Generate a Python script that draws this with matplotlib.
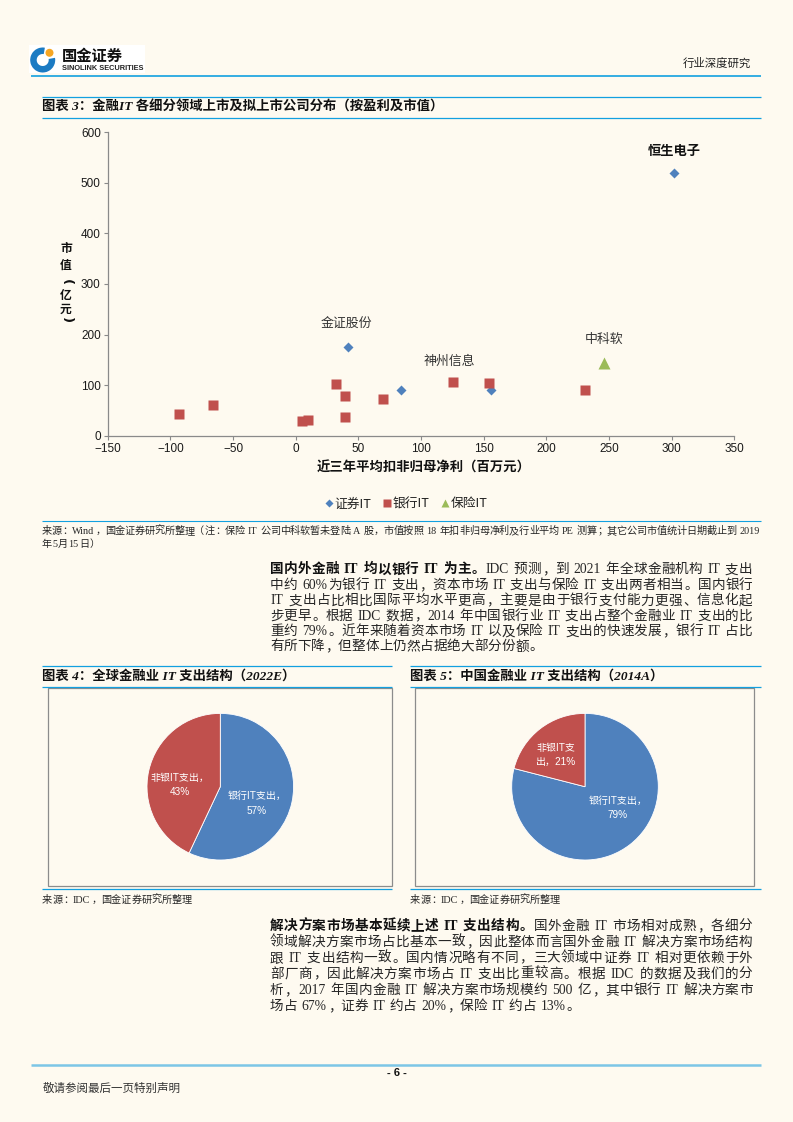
import matplotlib
matplotlib.use('Agg')
import matplotlib.pyplot as plt
from matplotlib.patches import Wedge, Circle, Rectangle
from matplotlib.lines import Line2D

W, H, DPI = 793, 1122, 100
BG = '#FEFAF0'
CJK = 'Noto Sans CJK SC'
plt.rcParams['font.family'] = [CJK, 'DejaVu Sans']
plt.rcParams['axes.unicode_minus'] = True

BLUE = '#4F81BD'
RED = '#C0504D'
GREEN = '#9BBB59'
LINE_BLUE = '#12A0E0'

# ---------------- data ----------------
sec_x = [41.8, 84.0, 155.6, 301.9]
sec_y = [175, 91, 90, 519]
bank_x = [-93, -66, 5, 10, 32, 39, 39.5, 70, 125.5, 154.5, 231]
bank_y = [43, 61, 29, 32, 103, 78, 37, 72, 107, 105, 91]
ins_x = [246]
ins_y = [144]
series_names = ['证券IT', '银行IT', '保险IT']
label_names = ['恒生电子', '金证股份', '神州信息', '中科软']
label_points = [(301.9, 519), (41.8, 175), (125.5, 107), (246, 144)]
x_ticks = [-150, -100, -50, 0, 50, 100, 150, 200, 250, 300, 350]
y_ticks = [0, 100, 200, 300, 400, 500, 600]

pie1_labels = ['银行IT支出，\n57%', '非银IT支出，\n43%']
pie1_values = [57, 43]
pie2_labels = ['银行IT支出，\n79%', '非银IT支\n出，21%']
pie2_values = [79, 21]

fig = plt.figure(figsize=(W / DPI, H / DPI), dpi=DPI, facecolor=BG)
renderer = fig.canvas.get_renderer()

ax0 = fig.add_axes([0, 0, 1, 1])
ax0.set_xlim(0, W)
ax0.set_ylim(H, 0)
ax0.axis('off')
ax0.set_facecolor(BG)


def hline(x0, x1, y, color=LINE_BLUE, lw=0.9):
    ax0.plot([x0, x1], [y, y], color=color, lw=lw, solid_capstyle='butt')


BODY = ['Liberation Serif', CJK]
TXT = '#262626'


def is_cjk(c):
    return len(c) == 1 and ord(c) > 0x2000


def tokenize(segs):
    toks = []
    for text, weight in segs:
        buf = ''
        for c in text:
            if c == ' ' or is_cjk(c):
                if buf:
                    toks.append((buf, weight))
                    buf = ''
                toks.append((c, weight))
            else:
                buf += c
        if buf:
            toks.append((buf, weight))
    return toks


def text_line(x0, yc, segs, size, x1=None, color=TXT):
    em = size * DPI / 72.0
    y = yc + 0.36 * em
    toks = tokenize(segs)
    items = []
    for t, w in toks:
        col = '#111' if w == 'bold' else color
        if t == ' ':
            items.append((None, t, 0.28 * em))
        elif is_cjk(t):
            a = ax0.text(0, y, t, fontsize=size, fontweight=w, family=BODY,
                         va='baseline', ha='center', color=col)
            items.append((a, t, em))
        else:
            a = ax0.text(0, y, t, fontsize=size, fontweight=w, family=BODY,
                         va='baseline', ha='left', color=col)
            wd = a.get_window_extent(renderer).width + 0.08 * em
            items.append((a, t, wd))
    total = sum(i[2] for i in items)
    gap = 0.0
    if x1 is not None and len(items) > 1:
        gap = (x1 - x0 - total) / (len(items) - 1)
    x = x0
    for a, t, wd in items:
        if a is not None:
            if is_cjk(t):
                if t in '，。、；：）':
                    a.set_ha('left')
                    a.set_x(x + 0.05 * em)
                elif t in '（':
                    a.set_ha('right')
                    a.set_x(x + wd - 0.05 * em)
                else:
                    a.set_x(x + wd / 2)
            else:
                a.set_x(x + 0.04 * em)
        x += wd + gap


# ---------------- header ----------------
ax0.add_patch(Rectangle((29, 45), 116, 28, facecolor='white', edgecolor='none'))
ax0.add_patch(Wedge((42.7, 60), 12.5, -10, 280, width=6.5, facecolor='#1B7BC3', edgecolor='none'))
ax0.add_patch(Circle((49.5, 52.8), 4.0, facecolor='#F6A623', edgecolor='none'))
ax0.text(62, 55.5, '国金证券', fontsize=11, fontweight='bold', color='#111', va='center', ha='left')
ax0.text(62, 68.5, 'SINOLINK SECURITIES', fontsize=5.3, fontweight='bold', family=['Liberation Sans'],
         color='#222', va='center', ha='left')
ax0.text(751, 63.5, '行业深度研究', fontsize=8.2, color='#222', va='center', ha='right')
hline(31, 761, 76, lw=1.2)

# ---------------- figure 3 title ----------------
hline(42, 761, 96.5)
hline(42, 761, 117.5)
ax0.text(42, 107.5, '图表 3：金融IT 各细分领域上市及拟上市公司分布（按盈利及市值）', fontsize=9.6,
         fontweight='bold', style='italic', family=BODY, va='center', ha='left', color='#111')

# ---------------- scatter ----------------
L, R, T, B = 107.7, 734.3, 132.3, 435.7
ax = fig.add_axes([L / W, 1 - B / H, (R - L) / W, (B - T) / H])
ax.set_facecolor('none')
ax.plot(sec_x, sec_y, ls='none', marker='D', ms=5.3, color=BLUE, mec='none')
ax.plot(bank_x, bank_y, ls='none', marker='s', ms=7.6, color=RED, mec='none')
ax.plot(ins_x, ins_y, ls='none', marker='^', ms=8, color=GREEN, mec='none')
ax.set_xlim(x_ticks[0], x_ticks[-1])
ax.set_ylim(y_ticks[0], y_ticks[-1])
ax.set_xticks(x_ticks)
ax.set_yticks(y_ticks)
for s in ['top', 'right']:
    ax.spines[s].set_visible(False)
for s in ['left', 'bottom']:
    ax.spines[s].set_color('#8a8a8a')
    ax.spines[s].set_linewidth(0.9)
ax.tick_params(direction='out', length=3, width=0.8, color='#8a8a8a', labelsize=8.5, pad=2,
               labelcolor='#1a1a1a')
for lbl in ax.get_xticklabels() + ax.get_yticklabels():
    lbl.set_family('Liberation Sans')

offsets = [(0, 22), (-2, 23), (-4, 20), (0, 23)]
for name, (px, py), off in zip(label_names, label_points, offsets):
    ax.annotate(name, (px, py), xytext=off, textcoords='offset pixels', ha='center', va='center',
                fontsize=9.3 if name != '恒生电子' else 9.5,
                fontweight='bold' if name == '恒生电子' else 'normal',
                color='#111' if name == '恒生电子' else '#333')

# y label stacked (parentheses rotated as in vertical text)
ylab_chars = [('市', 248.5, 0, 8.5), ('值', 265.5, 0, 8.5), ('(', 282, -90, 9.5), ('亿', 295.5, 0, 8.5),
              ('元', 309.5, 0, 8.5), (')', 320, -90, 9.5)]
for ch, yy, rot, fs in ylab_chars:
    fam = ['DejaVu Sans'] if ch in '()' else [CJK]
    ax0.text(66, yy, ch, fontsize=fs, fontweight='bold', ha='center', va='center', color='#111',
             rotation=rot, family=fam, rotation_mode='anchor')
ax0.text(424, 468, '近三年平均扣非归母净利（百万元）', fontsize=9.6, fontweight='bold', ha='center', va='center',
         color='#111')

handles = [Line2D([], [], ls='none', marker='D', ms=4.4, color=BLUE, mec='none'),
           Line2D([], [], ls='none', marker='s', ms=5.8, color=RED, mec='none'),
           Line2D([], [], ls='none', marker='^', ms=6.0, color=GREEN, mec='none')]
leg = fig.legend(handles, series_names, loc='center', bbox_to_anchor=(406 / W, 1 - 504 / H), ncol=3,
                 frameon=False, fontsize=9.2, handlelength=0.6, handletextpad=0.15, columnspacing=0.9,
                 borderpad=0)
for t in leg.get_texts():
    t.set_color('#222')

hline(42, 761, 521, lw=0.8)
text_line(42, 530.5, [('来源：Wind，国金证券研究所整理（注：保险 IT 公司中科软暂未登陆 A 股，市值按照 18 年扣非归母净利及行业平均 PE 测算；其它公司市值统计日期截止到 2019', 'normal')],
          7.3, x1=760)
text_line(42, 543.5, [('年5月15日）', 'normal')], 7.3)

# ---------------- paragraph 1 ----------------
p1 = [
    [('国内外金融 IT 均以银行 IT 为主。', 'bold'), ('IDC 预测，到 2021 年全球金融机构 IT 支出', 'normal')],
    [('中约 60%为银行 IT 支出，资本市场 IT 支出与保险 IT 支出两者相当。国内银行', 'normal')],
    [('IT 支出占比相比国际平均水平更高，主要是由于银行支付能力更强、信息化起', 'normal')],
    [('步更早。根据 IDC 数据，2014 年中国银行业 IT 支出占整个金融业 IT 支出的比', 'normal')],
    [('重约 79%。近年来随着资本市场 IT 以及保险 IT 支出的快速发展，银行 IT 占比', 'normal')],
    [('有所下降，但整体上仍然占据绝大部分份额。', 'normal')],
]
p1_y = [568.5, 584, 599.5, 614.8, 630.3, 645.5]
for i, (segs, yy) in enumerate(zip(p1, p1_y)):
    text_line(270, yy, segs, 9.8, x1=752.5 if i < len(p1) - 1 else None)

# ---------------- figure 4 / 5 ----------------
for x0, x1 in [(42, 392), (410, 761)]:
    hline(x0, x1, 665.8)
    hline(x0, x1, 687.3)
    hline(x0, x1, 889.3)
ax0.text(42, 676.5, '图表 4：全球金融业 IT 支出结构（2022E）', fontsize=9.6, fontweight='bold', style='italic',
         family=BODY, va='center', ha='left', color='#111')
ax0.text(410, 676.5, '图表 5：中国金融业 IT 支出结构（2014A）', fontsize=9.6, fontweight='bold', style='italic',
         family=BODY, va='center', ha='left', color='#111')
ax0.add_patch(Rectangle((48.3, 688.3), 344, 197.4, fill=False, edgecolor='#8c8c8c', lw=0.9))
ax0.add_patch(Rectangle((415, 688.3), 339, 197.4, fill=False, edgecolor='#8c8c8c', lw=0.9))
text_line(42, 899, [('来源：IDC，国金证券研究所整理', 'normal')], 7.3)
text_line(410, 899, [('来源：IDC，国金证券研究所整理', 'normal')], 7.3)

PIE_FONT = ['Liberation Sans', CJK]


def draw_pie(cx, cy, r, values, labels, label_pos):
    a = fig.add_axes([(cx - r) / W, 1 - (cy + r) / H, 2 * r / W, 2 * r / H])
    a.pie(values, colors=[BLUE, RED], startangle=90, counterclock=False,
          wedgeprops=dict(edgecolor='white', linewidth=0.6))
    a.set_xlim(-1, 1)
    a.set_ylim(-1, 1)
    a.set_aspect('auto')
    a.axis('off')
    for lab, (lx, ly) in zip(labels, label_pos):
        a.text(lx, ly, lab, ha='center', va='center', color='white', fontsize=7.2, family=PIE_FONT,
               linespacing=1.55)


draw_pie(220.3, 786.7, 73.3, pie1_values, pie1_labels, [(0.5, -0.23), (-0.55, 0.02)])
draw_pie(585, 786.7, 73.3, pie2_values, pie2_labels, [(0.45, -0.29), (-0.40, 0.43)])

# ---------------- paragraph 2 ----------------
p2 = [
    [('解决方案市场基本延续上述 IT 支出结构。', 'bold'), ('国外金融 IT 市场相对成熟，各细分', 'normal')],
    [('领域解决方案市场占比基本一致，因此整体而言国外金融 IT 解决方案市场结构', 'normal')],
    [('跟 IT 支出结构一致。国内情况略有不同，三大领域中证券 IT 相对更依赖于外', 'normal')],
    [('部厂商，因此解决方案市场占 IT 支出比重较高。根据 IDC 的数据及我们的分', 'normal')],
    [('析，2017 年国内金融 IT 解决方案市场规模约 500 亿，其中银行 IT 解决方案市', 'normal')],
    [('场占 67%，证券 IT 约占 20%，保险 IT 约占 13%。', 'normal')],
]
p2_y = [925, 941, 956.7, 972.7, 989, 1005]
for i, (segs, yy) in enumerate(zip(p2, p2_y)):
    text_line(270, yy, segs, 9.8, x1=752.5 if i < len(p2) - 1 else None)

# ---------------- footer ----------------
hline(31, 761, 1065, color='#7CC6E6', lw=1.8)
ax0.text(397, 1073.5, '- 6 -', fontsize=8, fontweight='bold', family=['Liberation Sans'], ha='center',
         va='center', color='#111')
ax0.text(43, 1088, '敬请参阅最后一页特别声明', fontsize=8.3, ha='left', va='center', color='#333')

fig.savefig('out.png', dpi=DPI, facecolor=BG)
